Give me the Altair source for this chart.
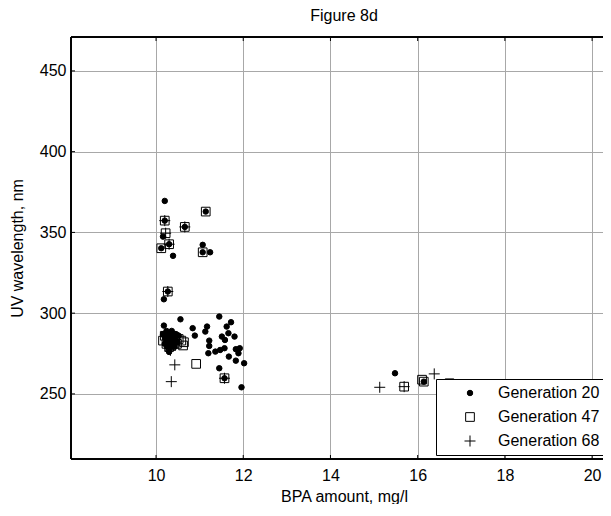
import altair as alt
import pandas as pd

# ---- data ----
g20_x = [10.20, 10.20, 10.66, 11.14, 10.16, 10.30, 10.12, 10.39, 11.07, 11.07, 11.24, 10.27, 10.18,
         10.18, 10.56, 10.84, 10.89, 11.17, 11.13, 11.45, 11.22, 11.22, 11.20, 11.36, 11.47, 11.57,
         11.51, 11.62, 11.72, 11.66, 11.80, 11.58, 11.83, 11.92, 11.89, 11.67, 11.83, 12.02, 11.45,
         11.57, 11.96,
         10.16, 10.20, 10.24, 10.28, 10.32, 10.36, 10.40, 10.44, 10.20, 10.26, 10.30, 10.34, 10.38,
         10.42, 10.48, 10.52, 10.24, 10.36, 10.30, 10.46,
         15.48, 16.14]
g20_y = [369.5, 357.3, 353.4, 362.9, 347.4, 342.7, 340.2, 335.5, 342.3, 337.7, 337.7, 313.4, 308.6,
         292.3, 296.2, 290.7, 286.1, 291.7, 288.6, 297.9, 283.0, 279.7, 275.2, 276.2, 277.2, 278.3,
         285.5, 291.7, 294.4, 287.6, 285.5, 283.4, 277.7, 278.3, 275.2, 273.1, 270.6, 269.0, 265.9,
         259.7, 254.1,
         287, 285, 283, 287, 285, 283, 286, 284, 281, 279, 281, 279, 281,
         279, 282, 286, 289, 289, 276, 287,
         262.8, 257.6]

g47_x = [10.20, 10.66, 11.14, 10.22, 10.30, 10.12, 11.07, 10.27,
         10.20, 10.28, 10.36, 10.44, 10.52, 10.24, 10.32, 10.40, 10.48, 10.58, 10.62, 10.16, 10.30, 10.64,
         10.92, 11.57, 15.69, 16.14, 16.10, 16.73]
g47_y = [357.3, 353.4, 362.9, 349.5, 342.7, 340.2, 337.7, 313.4,
         286, 285, 286, 285, 284, 281, 282, 281, 281, 283, 280, 283, 279, 282,
         268.6, 259.7, 254.5, 257.6, 258.8, 256.6]

g68_x = [10.20, 10.66, 10.22, 10.30, 10.27,
         10.30, 10.40, 10.35, 10.25, 10.45, 10.33,
         10.43, 10.35, 11.57, 15.13, 15.69, 16.38]
g68_y = [357.3, 353.4, 349.5, 342.7, 313.4,
         284, 283, 281, 286, 282, 277,
         268.0, 257.6, 259.7, 254.1, 254.5, 262.4]

groups = ["Generation 20", "Generation 47", "Generation 68"]
x_ticks = [10, 12, 14, 16, 18, 20]
y_ticks = [250, 300, 350, 400, 450]
x_dom = [8.05, 20.25]
y_dom = [209.7, 471]

rows = []
for g, xs_, ys_ in zip(groups, [g20_x, g47_x, g68_x], [g20_y, g47_y, g68_y]):
    for a, b in zip(xs_, ys_):
        rows.append({"bpa": a, "uv": b, "gen": g})
df = pd.DataFrame(rows)

W, H = 532, 422
FONT = "Liberation Sans"
FS = 16
plus_path = "M-1,0H1M0,-1V1"

xs = alt.Scale(domain=x_dom, nice=False, zero=False)
ys = alt.Scale(domain=y_dom, nice=False, zero=False)

points = alt.Chart(df).mark_point(strokeWidth=1, opacity=1, clip=True).encode(
    x=alt.X("bpa:Q", scale=xs, title="BPA amount, mg/l",
            axis=alt.Axis(values=x_ticks, grid=True, ticks=False, tickSize=0, domain=False,
                          labelPadding=8, titlePadding=5, titleX=W / 2 + 7)),
    y=alt.Y("uv:Q", scale=ys, title="UV wavelength, nm",
            axis=alt.Axis(values=y_ticks, grid=True, ticks=False, tickSize=0, domain=False,
                          labelPadding=5, titlePadding=14)),
    shape=alt.Shape("gen:N", scale=alt.Scale(domain=groups, range=["circle", "square", plus_path]),
                    legend=alt.Legend(title=None, orient="none", legendX=365, legendY=342)),
    fill=alt.Fill("gen:N", scale=alt.Scale(domain=groups, range=["black", "transparent", "transparent"])),
    stroke=alt.Stroke("gen:N", scale=alt.Scale(domain=groups, range=["black", "black", "black"])),
    size=alt.Size("gen:N", scale=alt.Scale(domain=groups, range=[30, 121, 100])),
)

xt = pd.DataFrame({"t": x_ticks})
yt = pd.DataFrame({"t": y_ticks})
xtick_b = alt.Chart(xt).mark_rule(color="black", strokeWidth=1).encode(
    x=alt.X("t:Q", scale=xs), y=alt.value(H), y2=alt.value(H - 4))
xtick_t = alt.Chart(xt).mark_rule(color="black", strokeWidth=1).encode(
    x=alt.X("t:Q", scale=xs), y=alt.value(0), y2=alt.value(4))
ytick_l = alt.Chart(yt).mark_rule(color="black", strokeWidth=1).encode(
    y=alt.Y("t:Q", scale=ys), x=alt.value(0), x2=alt.value(4))

border_top = alt.Chart(xt).mark_rule(color="black", strokeWidth=1).encode(
    x=alt.value(0), x2=alt.value(W), y=alt.value(0))
border_bottom = alt.Chart(xt).mark_rule(color="black", strokeWidth=1).encode(
    x=alt.value(0), x2=alt.value(W), y=alt.value(H))
border_left = alt.Chart(xt).mark_rule(color="black", strokeWidth=1).encode(
    x=alt.value(0), y=alt.value(0), y2=alt.value(H))

chart = alt.layer(points, xtick_b, xtick_t, ytick_l, border_top, border_bottom, border_left).properties(
    width=W, height=H,
    title=alt.TitleParams("Figure 8d", font=FONT, fontSize=FS, fontWeight="normal",
                          color="black", offset=13, anchor="middle", dx=7),
    autosize=alt.AutoSizeParams(type="none"),
    padding={"left": 63, "top": 29, "right": 0, "bottom": 45},
).configure_view(
    strokeWidth=0
).configure_axis(
    labelFont=FONT, labelFontSize=FS, labelColor="black",
    titleFont=FONT, titleFontSize=FS, titleFontWeight="normal", titleColor="black",
    gridColor="#a8a8a8", gridWidth=1, gridOpacity=1,
).configure_legend(
    labelFont=FONT, labelFontSize=FS, labelColor="black",
    strokeColor="black", fillColor="white", padding=6, rowPadding=8,
    symbolOffset=20, labelOffset=20, symbolStrokeWidth=1,
    cornerRadius=0, labelLimit=300,
)

chart.save("out.html", embed_options={"renderer": "svg", "actions": False})
